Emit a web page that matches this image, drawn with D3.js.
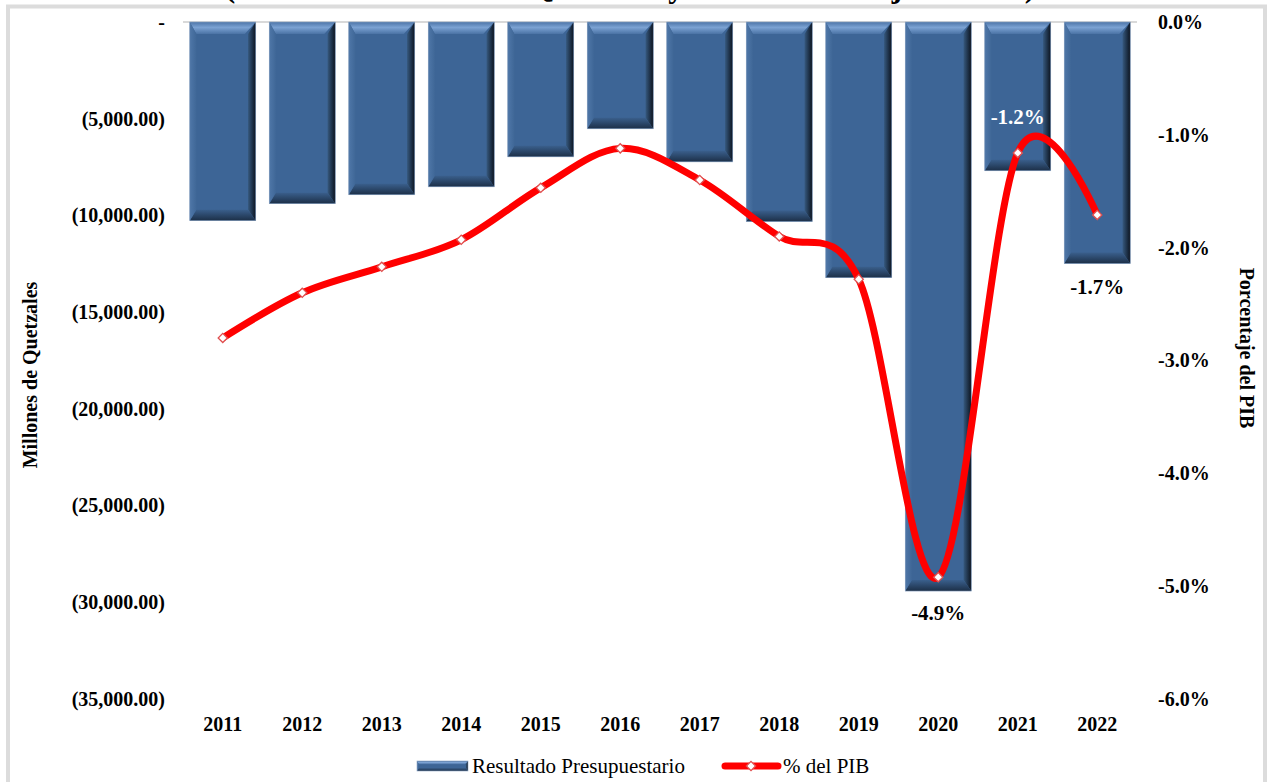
<!DOCTYPE html>
<html>
<head>
<meta charset="utf-8">
<script src="https://cdn.jsdelivr.net/npm/d3@7"></script>
<style>
  body { margin: 0; background: #fff; }
  svg { display: block; font-family: 'Liberation Serif', 'Times New Roman', serif; }
</style>
</head>
<body>
<svg width="1267" height="782"></svg>
<script>
// Data
const years = ['2011', '2012', '2013', '2014', '2015', '2016', '2017', '2018', '2019', '2020', '2021', '2022']
const resultado = [-10270, -9390, -8930, -8520, -6970, -5520, -7230, -10320, -13220, -29420, -7690, -12490]
const pctPIB = [-2.8, -2.4, -2.17, -1.93, -1.47, -1.12, -1.4, -1.9, -2.28, -4.92, -1.16, -1.71]
const leftTicks = [0, -5000, -10000, -15000, -20000, -25000, -30000, -35000]
const rightTicks = [0, -1, -2, -3, -4, -5, -6]
const labelled = ['2020', '2021', '2022']

const svg = d3.select('svg')
const defs = svg.append('defs')

// Plot box
const plotLeft = 183
const plotRight = 1137
const plotTop = 22
const plotBottom = 699

// Plain hyphen instead of the unicode minus that d3.format gives
const fmtPct = v => d3.format('.1f')(v).replace('\u2212', '-') + '%'
const fmtLeft = v => v === 0 ? '-' : '(' + d3.format(',.2f')(-v) + ')'

// Gradients for the bevelled bars
function grad(id, x2, y2, stops) {
  const g = defs.append('linearGradient').attr('id', id)
    .attr('x1', 0).attr('y1', 0).attr('x2', x2).attr('y2', y2)
  stops.forEach(s => g.append('stop').attr('offset', s[0]).attr('stop-color', s[1]))
}
grad('gTop', 0, 1, [[0, '#4d75a8'], [0.45, '#7ba2d3'], [1, '#4a72a4']])
grad('gRight', 1, 0, [[0, '#36597f'], [1, '#0c1420']])
grad('gBottom', 0, 1, [[0, '#3a5f8c'], [1, '#1c2f47']])
grad('gLeft', 1, 0, [[0, '#4f77a8'], [1, '#3f6797']])

// Grey frame
svg.append('rect')
  .attr('x', 8).attr('y', 6.5)
  .attr('width', 1257).attr('height', 800)
  .attr('fill', 'none')
  .attr('stroke', '#dcdcdc')
  .attr('stroke-width', 4)

// Title (cut off at the top of the picture, as in the original)
svg.append('text')
  .attr('x', 630).attr('y', -3)
  .attr('text-anchor', 'middle')
  .style('font-size', '31.5px').style('font-weight', 'bold')
  .text('(Cifras en Millones de Quetzales y como Porcentaje del PIB)')

// Scales
const xScale = d3.scaleBand()
  .domain(years)
  .range([plotLeft, plotRight])
  .paddingInner(0.17)
  .paddingOuter(0.085)

const yLeft = d3.scaleLinear()
  .domain([0, -35000])
  .range([plotTop, plotBottom])

const yRight = d3.scaleLinear()
  .domain([0, -6])
  .range([plotTop, plotBottom])

// Left axis
const axisL = svg.append('g')
  .attr('transform', `translate(${plotLeft - 18}, 0)`)
  .call(d3.axisLeft(yLeft).tickValues(leftTicks).tickFormat(fmtLeft).tickSize(0).tickPadding(0))
axisL.select('.domain').remove()
axisL.selectAll('text')
  .attr('fill', '#000')
  .style('font-family', "'Liberation Serif', serif")
  .style('font-size', '20px').style('font-weight', 'bold')

// Right axis
const axisR = svg.append('g')
  .attr('transform', `translate(${plotRight + 21}, 0)`)
  .call(d3.axisRight(yRight).tickValues(rightTicks).tickFormat(fmtPct).tickSize(0).tickPadding(0))
axisR.select('.domain').remove()
axisR.selectAll('text')
  .attr('fill', '#000')
  .style('font-family', "'Liberation Serif', serif")
  .style('font-size', '20px').style('font-weight', 'bold')

// Bottom category labels
const axisB = svg.append('g')
  .attr('transform', `translate(0, ${plotBottom + 12})`)
  .call(d3.axisBottom(xScale).tickSize(0).tickPadding(0))
axisB.select('.domain').remove()
axisB.selectAll('text')
  .attr('fill', '#000')
  .attr('dy', '1em')
  .style('font-family', "'Liberation Serif', serif")
  .style('font-size', '20px').style('font-weight', 'bold')

// Zero line
svg.append('line')
  .attr('x1', plotLeft).attr('x2', plotRight)
  .attr('y1', yLeft(0)).attr('y2', yLeft(0))
  .attr('stroke', '#d9d9d9').attr('stroke-width', 2)

// Draws one bevelled box
function bevelBox(g, x, y, w, h, b) {
  b = Math.min(b, h / 2, w / 2)
  const bt = b * 1.1
  g.append('rect').attr('x', x).attr('y', y).attr('width', w).attr('height', h).attr('fill', '#3d6596')
  g.append('polygon').attr('fill', 'url(#gTop)')
    .attr('points', [[x, y], [x + w, y], [x + w - b, y + bt], [x + b * 0.6, y + bt]].join(' '))
  g.append('polygon').attr('fill', 'url(#gRight)')
    .attr('points', [[x + w, y], [x + w, y + h], [x + w - b * 0.7, y + h - b], [x + w - b * 0.7, y + bt]].join(' '))
  g.append('polygon').attr('fill', 'url(#gBottom)')
    .attr('points', [[x, y + h], [x + w, y + h], [x + w - b * 0.7, y + h - b], [x + b * 0.6, y + h - b]].join(' '))
  g.append('polygon').attr('fill', 'url(#gLeft)')
    .attr('points', [[x, y], [x + b * 0.6, y + bt], [x + b * 0.6, y + h - b], [x, y + h]].join(' '))
  g.append('rect').attr('x', x).attr('y', y).attr('width', w).attr('height', h)
    .attr('fill', 'none').attr('stroke', '#8ea6c4').attr('stroke-width', 0.6)
}

// Bars
const bars = svg.append('g')
years.forEach((yr, i) => {
  const g = bars.append('g')
  const y0 = yLeft(0)
  const y1 = yLeft(resultado[i])
  bevelBox(g, xScale(yr), y0, xScale.bandwidth(), y1 - y0, 11)
})

// % del PIB line
const pts = years.map((yr, i) => [xScale(yr) + xScale.bandwidth() / 2, yRight(pctPIB[i])])
svg.append('path')
  .datum(pts)
  .attr('fill', 'none')
  .attr('stroke', '#ff0000')
  .attr('stroke-width', 7)
  .attr('stroke-linecap', 'round')
  .attr('d', d3.line().curve(d3.curveCardinal.tension(0)))

// Diamond markers (square turned 45 degrees)
const diamond = d3.symbol().type(d3.symbolSquare).size(42)
svg.append('g').selectAll('path')
  .data(pts)
  .enter()
  .append('path')
  .attr('transform', d => `translate(${d[0]}, ${d[1]}) rotate(45)`)
  .attr('d', diamond)
  .attr('fill', '#fff')
  .attr('stroke', '#e05050')
  .attr('stroke-width', 1.3)

// Data labels
years.forEach((yr, i) => {
  if (!labelled.includes(yr)) return
  const cx = xScale(yr) + xScale.bandwidth() / 2
  const py = yRight(pctPIB[i])
  let dy = 36
  let color = '#000'
  if (yr === '2021') { dy = -36; color = '#fff' }
  if (yr === '2022') { dy = 72 }
  svg.append('text')
    .attr('x', cx).attr('y', py + dy)
    .attr('dy', '0.35em')
    .attr('text-anchor', 'middle')
    .attr('fill', color)
    .style('font-size', '21px').style('font-weight', 'bold')
    .text(fmtPct(pctPIB[i]))
})

// Axis titles
svg.append('text')
  .attr('transform', 'translate(37, 375) rotate(-90)')
  .attr('text-anchor', 'middle')
  .style('font-size', '20px').style('font-weight', 'bold')
  .text('Millones de Quetzales')

svg.append('text')
  .attr('transform', 'translate(1240, 348) rotate(90)')
  .attr('text-anchor', 'middle')
  .style('font-size', '20px').style('font-weight', 'bold')
  .text('Porcentaje del PIB')

// Legend
const legend = svg.append('g')
bevelBox(legend, 417, 761, 51, 10, 3)
legend.append('text')
  .attr('x', 472).attr('y', 773)
  .style('font-size', '21px')
  .text('Resultado Presupuestario')

legend.append('line')
  .attr('x1', 725).attr('x2', 778)
  .attr('y1', 766).attr('y2', 766)
  .attr('stroke', '#ff0000').attr('stroke-width', 7)
  .attr('stroke-linecap', 'round')
legend.append('path')
  .attr('transform', 'translate(751, 766) rotate(45)')
  .attr('d', diamond)
  .attr('fill', '#fff')
  .attr('stroke', '#e05050')
  .attr('stroke-width', 1.3)
legend.append('text')
  .attr('x', 783).attr('y', 773)
  .style('font-size', '21px')
  .text('% del PIB')
</script>
</body>
</html>
